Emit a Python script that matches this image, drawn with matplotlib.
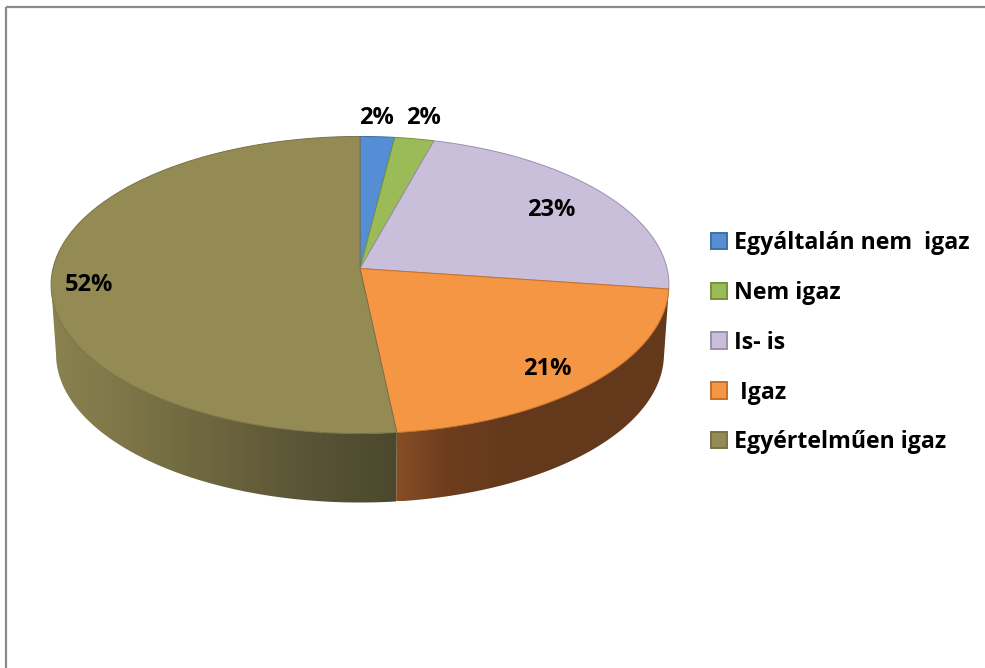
import numpy as np
import matplotlib
matplotlib.use("Agg")
import matplotlib.pyplot as plt
from matplotlib.patches import Patch, Polygon, Rectangle

categories = ["Egyáltalán nem  igaz", "Nem igaz", "Is- is", " Igaz", "Egyértelműen igaz"]
values = [2.0, 2.3, 22.9, 21.1, 51.7]
colors = ["#558ED5", "#9BBB59", "#CABFDA", "#F59644", "#948A54"]
edges = ["#41709F", "#76923C", "#9C8FAE", "#C56F2A", "#7A7146"]
label_pos = [(376, 117.5), (423, 117.5), (551, 210), (547, 369), (89, 285)]

# side wall shading, colour by pixel x
olive_x = [50, 130, 230, 300, 397]
olive_rgb = [(139, 130, 80), (125, 117, 72), (105, 98, 60), (90, 85, 55), (75, 72, 45)]
orange_x = [397, 420, 445, 500, 670]
orange_rgb = [(135, 78, 36), (122, 70, 33), (110, 62, 30), (101, 58, 28), (100, 57, 27)]

# geometry of the tilted pie
cx, cy = 360, 268.5
hx, hy, k = 307, 146.7, 0.111
depth = 69
shrink = 0.984


def project(a):
    # a = degrees clockwise from 12 o'clock, circle seen in perspective
    r = np.radians(a)
    x, y = np.sin(r), np.cos(r)
    w = 1 + k * y
    return cx + hx * x / w, cy - hy * y / w


def lower(px, py):
    return cx + (px - cx) * shrink, py + depth


plt.rcParams["font.family"] = ["Open Sans", "DejaVu Sans"]

fig = plt.figure(figsize=(9.85, 6.68), dpi=100)
ax = fig.add_axes([0, 0, 1, 1])

ax.add_patch(Rectangle((6, 7), 1300, 900, fill=False, ec="#8A8A8A", lw=1.6))

bounds = np.concatenate([[0], np.cumsum(values)]) / sum(values) * 360

# side walls: gradient image clipped to the wall outline
walls = {3: (orange_x, orange_rgb), 4: (olive_x, olive_rgb)}
for i, (sx, srgb) in walls.items():
    ang = np.linspace(bounds[i], bounds[i + 1], 400)
    px, py = project(ang)
    # only the front part, up to the left extreme of the rim
    stop = np.argmin(px) + 1
    px, py = px[:stop], py[:stop]
    bx, by = lower(px, py)
    outline = np.column_stack([np.r_[px, bx[::-1]], np.r_[py, by[::-1]]])
    x0, x1 = outline[:, 0].min(), outline[:, 0].max()
    y0, y1 = outline[:, 1].min(), outline[:, 1].max()
    grid = np.linspace(x0, x1, 400)
    img = np.stack([np.interp(grid, sx, [c[n] for c in srgb]) for n in range(3)], axis=-1)[None, :, :] / 255
    im = ax.imshow(img, extent=(x0, x1, y1, y0), aspect="auto", zorder=2, interpolation="bilinear")
    clip = Polygon(outline, closed=True, fc="none", ec="none", transform=ax.transData)
    ax.add_patch(clip)
    im.set_clip_path(clip)

ax.set_xlim(0, 985)
ax.set_ylim(668, 0)
ax.axis("off")

# top face
for i in range(len(values)):
    ang = np.linspace(bounds[i], bounds[i + 1], 200)
    px, py = project(ang)
    pts = np.column_stack([np.r_[cx, px], np.r_[cy, py]])
    ax.add_patch(Polygon(pts, closed=True, fc=colors[i], ec=edges[i], lw=0.7, zorder=3))

for v, pos in zip(values, label_pos):
    ax.text(pos[0], pos[1], f"{v:.0f}%", ha="center", va="center", fontsize=17,
            fontweight="bold", color="black", zorder=5)

handles = [Patch(fc=c, ec=e, lw=1.4) for c, e in zip(colors, edges)]
ax.legend(handles, categories, loc="upper left", bbox_to_anchor=(711 / 985, 1 - 231 / 668),
          frameon=False, prop={"size": 16.7, "weight": "bold"}, handlelength=0.7, handleheight=0.7,
          handletextpad=0.3, labelspacing=1.115, borderpad=0, borderaxespad=0)

fig.savefig("out.png", dpi=100)
